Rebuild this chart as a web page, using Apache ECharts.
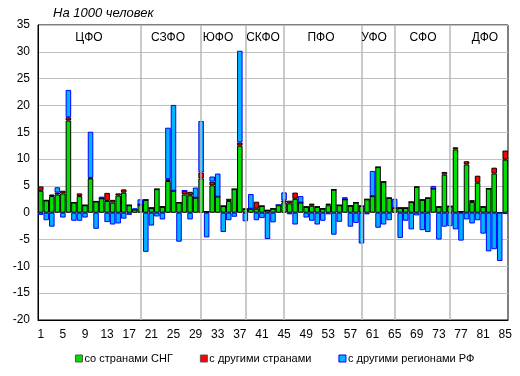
<!DOCTYPE html>
<html>
<head>
<meta charset="utf-8">
<script src="https://cdn.jsdelivr.net/npm/echarts@6/dist/echarts.min.js"></script>
<style>
  html, body { margin: 0; padding: 0; background: #fff; }
  #chart { width: 520px; height: 376px; }
</style>
</head>
<body>
<div id="chart"></div>
<script>
// регионы 1..85
const regions = Array.from({ length: 85 }, (_, i) => String(i + 1))

// сальдо миграции, на 1000 человек
const cisValues = [
  4.1, 2.3, 3.1, 3.4, 3.6, 17.2, 1.9, 3.1, 1.4, 6.4,
  2.1, 2.7, 2.2, 1.9, 3.2, 3.75, 1.4, 0.6, 1.5, 2.4,
  0.9, 4.4, 1.1, 5.9, 4.1, 1.9, 3.4, 3.25, 2.8, 6.4,
  0.2, 5.1, 3.0, 1.25, 2.2, 4.4, 12.5, 0.7, 0.75, 0.75,
  1.25, 0.45, 0.75, 1.4, 1.9, 1.75, 2.6, 1.9, 1.1, 1.3,
  1.1, 0.75, 1.4, 4.3, 1.4, 2.5, 1.3, 1.9, 1.25, 2.5,
  3.1, 8.5, 5.75, 2.75, 0.9, 0.9, 0.9, 2.0, 4.8, 2.4,
  2.75, 4.5, 1.1, 7.1, 1.2, 11.8, 0.2, 9.0, 2.0, 5.6,
  1.1, 4.5, 7.3, 0, 9.9
]
const otherCountryValues = [
  0.8, 0, 0.3, 0.35, 0.5, 0.6, 0, 0.5, 0, 0.1,
  0, 0, 1.5, 0.5, 0.4, 0.6, 0, 0, 0, 0,
  0, 0, 0, 0.35, 0, 0, 0.7, 0.65, 0, 1.1,
  0, 0.7, 0, 0, 0.4, 0, 0.6, 0, 0, 1.3,
  0, 0, 0, 0, 0.4, 0.5, 1.15, 0, 0, 0.4,
  0, 0, 0.3, 0, 0, 0, 0, 0, 0, 0,
  0, 0, 0, 0, 0, 0, 0, 0, 0, 0,
  0, 0, 0, 0.5, 0, 0.4, 0, 0.6, 0.35, 1.3,
  0, 0, 1.1, 0, 1.7
]
const otherRegionValues = [
  -0.4, -1.4, -2.6, 1.0, -0.9, 5.1, -1.5, -1.5, -0.9, 8.6,
  -3.0, 0.3, -1.75, -2.2, -2.0, -1.1, -0.4, 0.2, 1.0, -7.3,
  -2.4, -0.7, -1.25, 9.6, 16.0, -5.4, 0, -1.25, 1.9, 9.6,
  -4.6, 0.95, 4.3, -3.6, -1.4, -0.75, 17.1, -1.6, 2.75, -1.4,
  -1.0, -4.9, -1.8, 0, 1.5, -0.3, -2.2, 1.2, -0.9, -1.5,
  -2.2, -1.5, -0.3, -4.1, -1.7, 0.4, -2.6, -1.9, -5.75, -0.3,
  4.7, -2.8, -2.2, -1.4, 1.7, -4.7, -1.5, -3.1, -0.5, -3.25,
  -3.6, 0.5, -5.0, -2.6, -2.5, -3.1, -5.2, -1.25, -2.0, -1.4,
  -3.9, -7.2, -6.8, -9.0, -0.25
]

// федеральные округа: первый регион каждого округа (кроме ЦФО)
const districtNames = ['ЦФО', 'СЗФО', 'ЮФО', 'СКФО', 'ПФО', 'УФО', 'СФО', 'ДФО']
const districtStarts = ['19', '30', '38', '45', '59', '65', '75']
const districtLabelX = [89, 168, 218, 263, 321, 374, 423, 485]

const yTicks = { min: -20, max: 35, interval: 5 }

const chart = echarts.init(document.getElementById('chart'))

const font = 'Arial, "Liberation Sans", sans-serif'

const barSeries = (name, data, color, border) => ({
  name,
  type: 'bar',
  stack: 'total',
  data,
  barCategoryGap: '0%',
  z: 3,
  itemStyle: { color, borderColor: border, borderWidth: 1 }
})

const option = {
  animation: false,
  backgroundColor: '#fff',
  textStyle: { fontFamily: font },
  grid: {
    left: 38, right: 12, top: 25, bottom: 56,
    show: true, borderColor: '#000', borderWidth: 1
  },
  legend: {
    bottom: 7,
    left: 70,
    icon: 'rect',
    itemWidth: 7,
    itemHeight: 7,
    itemGap: 27,
    textStyle: { fontSize: 11, color: '#000', fontFamily: font, padding: [0, 0, 0, -3] },
    data: [
      { name: 'со странами СНГ', itemStyle: { color: '#00e000', borderColor: '#555', borderWidth: 1 } },
      { name: 'с другими странами', itemStyle: { color: '#ff0000', borderColor: '#555', borderWidth: 1 } },
      { name: 'с другими регионами РФ', itemStyle: { color: '#00b4ff', borderColor: '#0000ff', borderWidth: 1 } }
    ]
  },
  graphic: [
    {
      type: 'text', left: 53, top: 7,
      style: { text: 'На 1000 человек', font: 'italic 13px ' + font, fill: '#000' }
    },
    ...districtNames.map((name, i) => ({
      type: 'text', x: districtLabelX[i], y: 38, z: 10,
      style: { text: name, font: '12px ' + font, fill: '#000', align: 'center', verticalAlign: 'middle' }
    }))
  ],
  xAxis: {
    type: 'category',
    data: regions,
    axisLine: { onZero: false, lineStyle: { color: '#000' } },
    axisTick: { show: false },
    axisLabel: { interval: 3, color: '#000', fontSize: 12, margin: 9 },
    splitLine: { show: false }
  },
  yAxis: {
    type: 'value',
    min: yTicks.min,
    max: yTicks.max,
    interval: yTicks.interval,
    axisLine: { show: true, lineStyle: { color: '#000' } },
    axisTick: { show: false },
    axisLabel: { color: '#000', fontSize: 12, margin: 8 },
    splitLine: { lineStyle: { color: '#c0c0c0', width: 1 } }
  },
  series: [
    barSeries('со странами СНГ', cisValues, '#00e000', '#000'),
    barSeries('с другими странами', otherCountryValues, '#ff0000', '#000'),
    barSeries('с другими регионами РФ', otherRegionValues, '#00b4ff', '#0000ff'),
    {
      // границы округов
      type: 'line',
      data: [],
      z: 1,
      silent: true,
      markLine: {
        symbol: 'none',
        silent: true,
        animation: false,
        label: { show: false },
        lineStyle: { color: '#b8b8b8', type: 'solid', width: 1.5 },
        data: districtStarts.map(c => ({ xAxis: c }))
      }
    }
  ]
}

chart.setOption(option)
</script>
</body>
</html>
